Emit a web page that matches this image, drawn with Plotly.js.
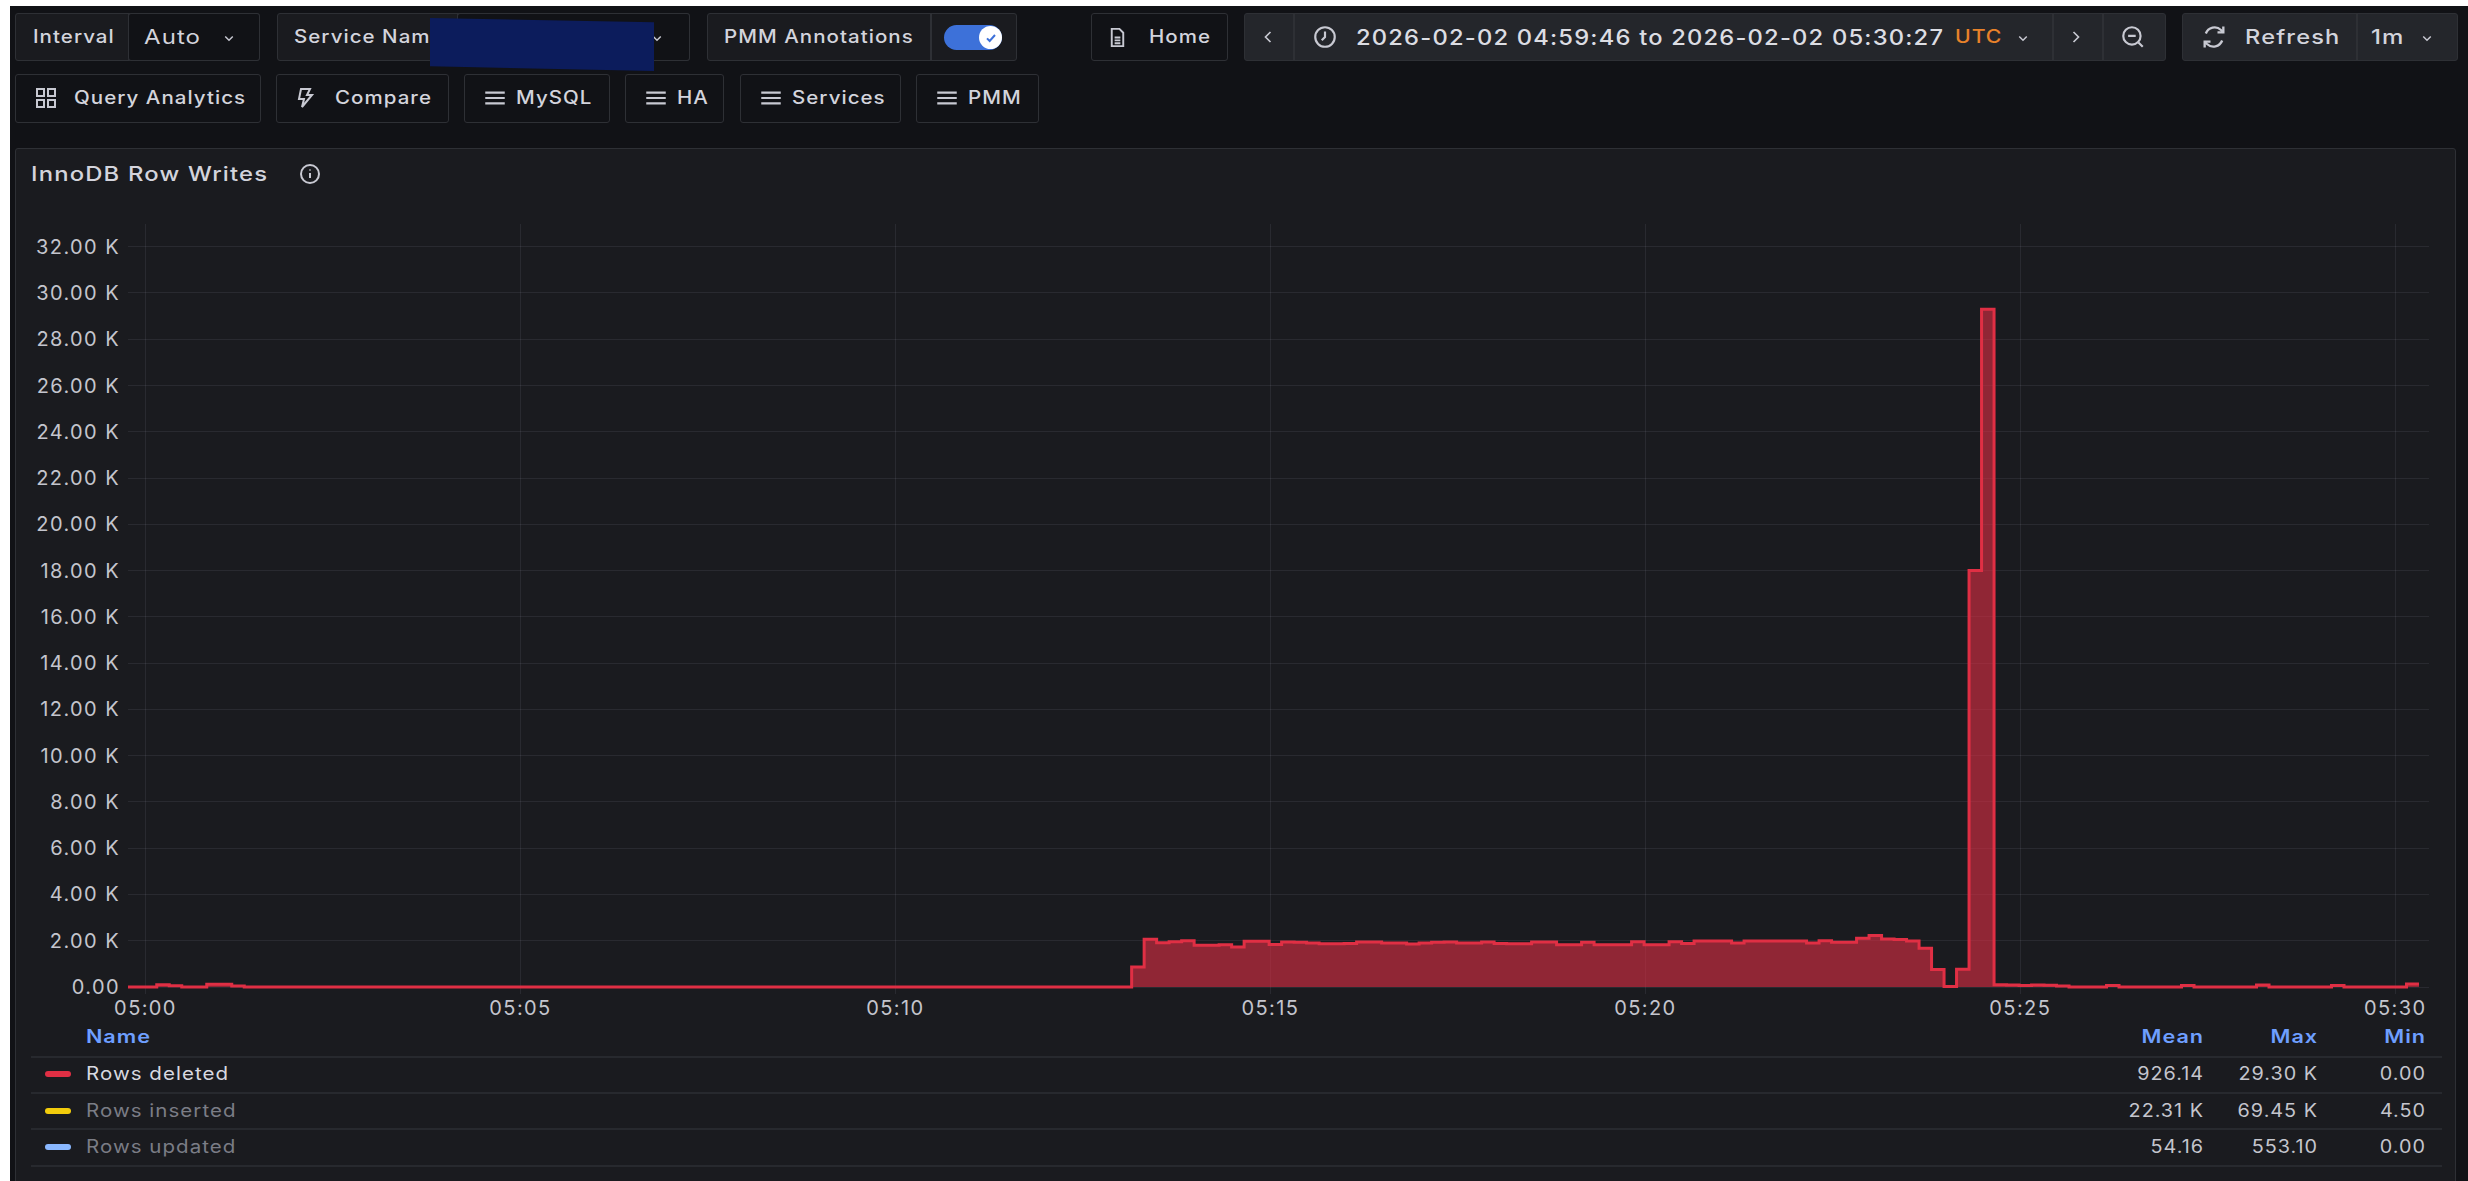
<!DOCTYPE html>
<html><head><meta charset="utf-8">
<script src="https://cdn.plot.ly/plotly-3.0.1.min.js"></script>
<style>
html,body{margin:0;padding:0;width:2468px;height:1181px;overflow:hidden;background:#111216;font-family:Inter,"Noto Sans",sans-serif;color:#ccccdc}
.abs{position:absolute;box-sizing:border-box}
.box{border:1.5px solid #2e3035;border-radius:3px;background:#1a1b1f}
.txt{position:absolute;white-space:nowrap;transform:translateY(-50%) scaleX(var(--k,1.14));transform-origin:left center;font-size:18px;font-weight:500;color:#d3d4dc;letter-spacing:.9px;line-height:1}
.r{transform:translate(-100%,-50%) scaleX(var(--k,1.1));transform-origin:right center}
.hr{position:absolute;height:1.5px;background:#27292e;left:31px;width:2411px}
#chart{position:absolute;left:0;top:0;width:2468px;height:1181px}
#chart .xtick text,#chart .ytick text{letter-spacing:1.4px}
svg.ic{position:absolute;fill:none;stroke:#c8c9d2;stroke-width:2}
</style></head><body>
<div id="ui"></div><div id="chart"></div>
<script>
// ---------- data ----------
const seriesName = 'Rows deleted';
const sampleStart = '2026-02-02T04:59:39Z';
const rowsDeleted = [
 0,0,0,100,60,0,0,120,120,40,
 0,0,0,0,0,0,0,0,0,0, 0,0,0,0,0,0,0,0,0,0,
 0,0,0,0,0,0,0,0,0,0, 0,0,0,0,0,0,0,0,0,0,
 0,0,0,0,0,0,0,0,0,0, 0,0,0,0,0,0,0,0,0,0,
 0,0,0,0,0,0,0,0,0,0,0,
 860,2060,1915,1960,2000,1800,1800,1830,1730,1975,1975,1840,1945,1930,1900,1870,1870,1880,
 1950,1950,1900,1900,1860,1900,1930,1950,1900,1900,1950,1880,1870,1870,1950,1950,1830,1830,
 1930,1830,1830,1830,1960,1830,1830,1960,1880,1990,1990,1990,1900,1990,1990,1990,1990,1990,
 1900,2000,1930,1930,2110,2230,2080,2050,1990,1680,760,20,770,18000,29300,
 100,90,70,90,80,40,0,0,0,70,0,0,0,0,0,70,0,0,0,0,0,90,0,0,0,0,0,70,0,0,0,0,0,130
];
const stepSeconds = 10;
const xTickVals = ['2026-02-02 05:00','2026-02-02 05:05','2026-02-02 05:10','2026-02-02 05:15','2026-02-02 05:20','2026-02-02 05:25','2026-02-02 05:30'];
const xTickText = ['05:00','05:05','05:10','05:15','05:20','05:25','05:30'];
const yTickVals = [0,2000,4000,6000,8000,10000,12000,14000,16000,18000,20000,22000,24000,26000,28000,30000,32000];
const yTickText = ['0.00','2.00 K','4.00 K','6.00 K','8.00 K','10.00 K','12.00 K','14.00 K','16.00 K','18.00 K','20.00 K','22.00 K','24.00 K','26.00 K','28.00 K','30.00 K','32.00 K'];
const legendNames = ['Rows deleted','Rows inserted','Rows updated'];
const legendColors = ['#e02f44','#f2cc0c','#8ab8ff'];
const legendMean = ['926.14','22.31 K','54.16'];
const legendMax = ['29.30 K','69.45 K','553.10'];
const legendMin = ['0.00','4.50','0.00'];

// ---------- times ----------
const fmt = d => d.toISOString().slice(0,19).replace('T',' ');
const t0 = new Date(sampleStart).getTime();
const xs = rowsDeleted.map((_,i)=>fmt(new Date(t0+i*stepSeconds*1000)));
xs.push(fmt(new Date(t0+rowsDeleted.length*stepSeconds*1000)));
const ys = rowsDeleted.concat([rowsDeleted[rowsDeleted.length-1]]);

Plotly.newPlot('chart',[{
  type:'scatter',mode:'lines',name:seriesName,x:xs,y:ys,
  line:{color:'#e02f44',width:3,shape:'hv'},
  fill:'tozeroy',fillcolor:'rgba(224,47,68,0.6)',hoverinfo:'x+y'
}],{
  width:2468,height:1181,autosize:false,showlegend:false,
  paper_bgcolor:'rgba(0,0,0,0)',plot_bgcolor:'rgba(0,0,0,0)',
  margin:{l:127.5,r:39.25,t:224,b:187,pad:0},
  font:{family:'Inter, sans-serif',size:20,color:'#c4c5cd'},
  xaxis:{type:'date',range:['2026-02-02 04:59:46','2026-02-02 05:30:27'],tickmode:'array',tickvals:xTickVals,ticktext:xTickText,
    showgrid:true,gridcolor:'rgba(204,204,220,0.09)',gridwidth:1,zeroline:false,showline:false,ticks:'',ticklabelstandoff:0},
  yaxis:{range:[-302,32981],tickmode:'array',tickvals:yTickVals,ticktext:yTickText,
    showgrid:true,gridcolor:'rgba(204,204,220,0.09)',gridwidth:1,zeroline:false,showline:false,ticks:'',ticklabelstandoff:7}
},{displayModeBar:false,staticPlot:true});

// ---------- dashboard chrome ----------
const ui = document.getElementById('ui');
function el(cls,css,html){const d=document.createElement('div');d.className=cls;d.style.cssText=css;if(html)d.innerHTML=html;ui.appendChild(d);return d;}
function box(x0,y0,x1,y1,bg){return el('abs box',`left:${x0}px;top:${y0}px;width:${x1-x0}px;height:${y1-y0}px;`+(bg?`background:${bg};`:''));}
function vl(x,y0,y1){el('abs',`left:${x}px;top:${y0}px;width:1.5px;height:${y1-y0}px;background:#2e3035`);}
function text(t,x,y,o={}){return el('txt'+(o.right?' r':''),`left:${x}px;top:${y}px;`+(o.css||''),t);}
function icon(x,y,s,inner){const n=document.createElementNS('http://www.w3.org/2000/svg','svg');n.setAttribute('class','ic');n.setAttribute('viewBox','0 0 24 24');n.setAttribute('width',s);n.setAttribute('height',s);n.style.left=(x-s/2)+'px';n.style.top=(y-s/2)+'px';n.innerHTML=inner;ui.appendChild(n);}
const chev='<path d="M7 10l5 5 5-5"/>', left='<path d="M15 6l-6 6 6 6"/>', right='<path d="M9 6l6 6-6 6"/>';
const burger='<path d="M3 7h18M3 12h18M3 17h18"/>';

el('abs','left:0;top:0;width:2468px;height:6px;background:#fff');
el('abs','left:0;top:0;width:10px;height:1181px;background:#fff');
// row 1
box(15,13,260,61);vl(128,13,61);box(128,13,260,61,'#111216');
text('Interval',33,37);text('Auto',144,37,{css:'font-size:20px;font-weight:400;--k:1.2'});icon(229,38,18,chev);
box(277,13,690,61);vl(457,13,61);box(457,13,690,61,'#111216');
text('Service Name',294,37);icon(657,38,18,chev);
box(707,13,1017,61);vl(930,13,61);
text('PMM Annotations',724,37);
el('abs','left:944px;top:25px;width:58px;height:25px;border-radius:13px;background:#3d71d9');
el('abs','left:979px;top:26px;width:23px;height:23px;border-radius:50%;background:#fff');
icon(990.5,37.5,16,'<path d="M6 12.5l4 4 8-9" style="stroke:#3d71d9;stroke-width:3"/>');
// redaction
el('abs','left:430px;top:18px;width:224px;height:53px;background:#0c1c5c;clip-path:polygon(0 0,100% 8%,100% 100%,0 91%)');
// home + time range
box(1091,13,1228,61,'#111216');
icon(1117,37,23,'<path d="M6 3h8l4 4v14H6z"/><path d="M9 12h6M9 15h6M9 18h6"/>');
text('Home',1149,37);
box(1244,13,2166,61,'#24262b');vl(1293,13,61);vl(2052,13,61);vl(2102,13,61);
icon(1268,37,20,left);icon(1325,37,26,'<circle cx="12" cy="12" r="9"/><path d="M12 7v5l-3 3"/>');
text('2026-02-02 04:59:46 to 2026-02-02 05:30:27',1356,37,{css:'font-size:21px;letter-spacing:1.05px;font-weight:500;color:#dcdde3;--k:1.13'});
text('UTC',1955,37,{css:'color:#e8822a;letter-spacing:.8px;font-size:18px;--k:1.18'});
icon(2023,38,18,chev);icon(2076,37,20,right);
icon(2133,37,26,'<circle cx="11" cy="11" r="8"/><path d="M7.5 11h7M17 17l4 4"/>');
box(2182,13,2458,61,'#24262b');vl(2356,13,61);
icon(2214,37,28,'<path d="M5 9a8 8 0 0 1 13-3l2 2M19 15a8 8 0 0 1-13 3l-2-2"/><path d="M20 3v5h-5M4 21v-5h5"/>');
text('Refresh',2245,37,{css:'font-size:20px;letter-spacing:1px;--k:1.18'});
text('1m',2371,37,{css:'font-size:20px;--k:1.2'});icon(2427,38,18,chev);
// row 2
box(15,74,261,123,'#111216');icon(46,98,24,'<rect x="3" y="3" width="7" height="7"/><rect x="14" y="3" width="7" height="7"/><rect x="3" y="14" width="7" height="7"/><rect x="14" y="14" width="7" height="7"/>');
text('Query Analytics',74,98);
box(276,74,449,123,'#111216');icon(305,98,24,'<path d="M8 3h9l-3 6h5L9 21l2-8H6z"/>');text('Compare',335,98);
box(464,74,610,123,'#111216');icon(495,98,26,burger);text('MySQL',516,98);
box(625,74,724,123,'#111216');icon(656,98,26,burger);text('HA',677,98);
box(740,74,901,123,'#111216');icon(771,98,26,burger);text('Services',792,98);
box(916,74,1039,123,'#111216');icon(947,98,26,burger);text('PMM',968,98);
// panel
box(15,148,2456,1190,'#1a1b1f');
text('InnoDB Row Writes',31,174,{css:'font-size:20px;letter-spacing:1px;--k:1.19'});
icon(310,174,24,'<circle cx="12" cy="12" r="9"/><path d="M12 11v5M12 7.5v1"/>');
// legend table
const blue='color:#6e9fff;font-weight:600;letter-spacing:.8px;--k:1.2;';
text('Name',86,1037,{css:blue});
text('Mean',2204,1037,{right:1,css:blue});text('Max',2318,1037,{right:1,css:blue});text('Min',2426,1037,{right:1,css:blue});
[1056,1092,1128,1165].forEach(y=>el('hr',`top:${y}px`));
const rowY=[1074,1111,1147];
legendNames.forEach((n,i)=>{
  el('abs',`left:45px;top:${rowY[i]-3}px;width:26px;height:6px;border-radius:3px;background:${legendColors[i]}`);
  text(n,86,rowY[i],{css:`font-weight:400;color:${i===0?'#d8d9e0':'#7b7d86'}`});
  text(legendMean[i],2204,rowY[i],{right:1,css:'font-weight:400;color:#c4c5cd'});
  text(legendMax[i],2318,rowY[i],{right:1,css:'font-weight:400;color:#c4c5cd'});
  text(legendMin[i],2426,rowY[i],{right:1,css:'font-weight:400;color:#c4c5cd'});
});
</script></body></html>
